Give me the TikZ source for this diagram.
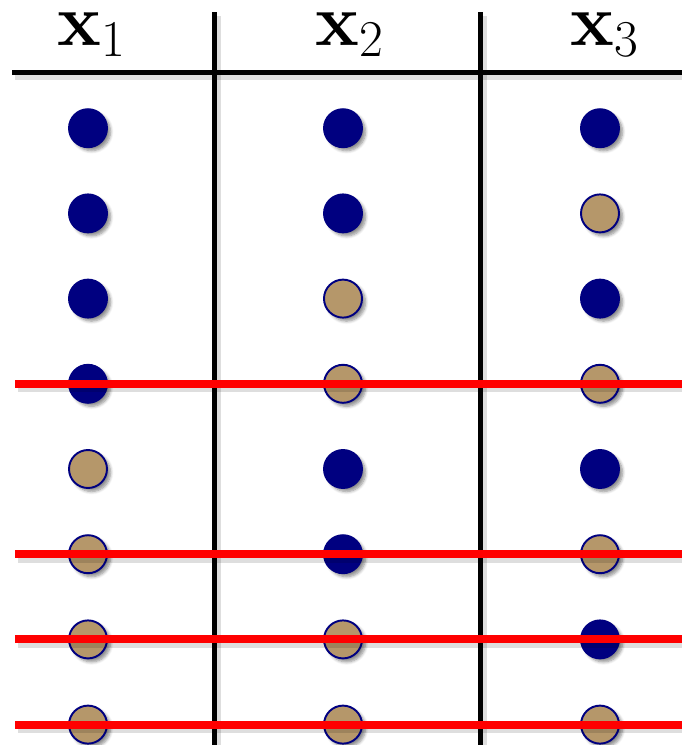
\RequirePackage{fix-cm}
\documentclass[tikz,border=0pt]{standalone}
\usepackage{tikz}
\usetikzlibrary{positioning,shadows,shadows.blur}
\definecolor{navydot}{RGB}{0,0,128}
\definecolor{tandot}{RGB}{181,151,106}

\begin{document}
\begin{tikzpicture}[x=0.02cm,y=-0.02cm,
  dot/.style={circle,draw=navydot,line width=1.1pt,minimum size=0.76cm,inner sep=0pt,
    blur shadow={shadow xshift=0.07cm,shadow yshift=-0.07cm,shadow blur steps=6,shadow opacity=45}},
  bit1/.style={dot,fill=navydot},
  bit0/.style={dot,fill=tandot},
  head/.style={anchor=base,inner sep=0pt,font=\fontsize{42}{48}\selectfont},
  rule/.style={line width=0.1cm,black},
  cut/.style={line width=0.16cm,red},
  ghost/.style={line width=0.16cm,black,opacity=0.13,transform canvas={xshift=1.5pt,yshift=-2.5pt}}]

  \useasboundingbox (0,0) rectangle (682,745);

  % column headers
  \node[head] (h1) at (92,45) {$\mathbf{x}_1$};
  \node[head] (h2) at (350,45) {$\mathbf{x}_2$};
  \node[head] (h3) at (605,45) {$\mathbf{x}_3$};

  % table rules
  \coordinate (L) at (12,72);
  \coordinate (R) at (682,72);
  \coordinate (v1t) at (214,12);
  \coordinate (v1b) at (214,745);
  \coordinate (v2t) at (480,12);
  \coordinate (v2b) at (480,745);
  \draw[ghost] (L) -- (R);
  \draw[ghost] (v1t) -- (v1b);
  \draw[ghost] (v2t) -- (v2b);
  \draw[rule] (L) -- (R);
  \draw[rule] (v1t) -- (v1b);
  \draw[rule] (v2t) -- (v2b);

  % truth table dots
  \foreach \r/\a/\b/\c in {1/1/1/1,2/1/1/0,3/1/0/1,4/1/0/0,5/0/1/1,6/0/1/0,7/0/0/1,8/0/0/0}{
    \node[bit\a] (d\r-1) at (88,{43+85.2*\r}) {};
    \node[bit\b] (d\r-2) at (343,{43+85.2*\r}) {};
    \node[bit\c] (d\r-3) at (600,{43+85.2*\r}) {};
  }

  % rows that are cut
  \coordinate (cl) at (15,0);
  \coordinate (cr) at (682,0);
  \foreach \r in {4,6,7,8}{
    \draw[ghost] (cl |- d\r-1) -- (cr |- d\r-1);
    \draw[cut] (cl |- d\r-1) -- (cr |- d\r-1);
  }
\end{tikzpicture}
\end{document}
